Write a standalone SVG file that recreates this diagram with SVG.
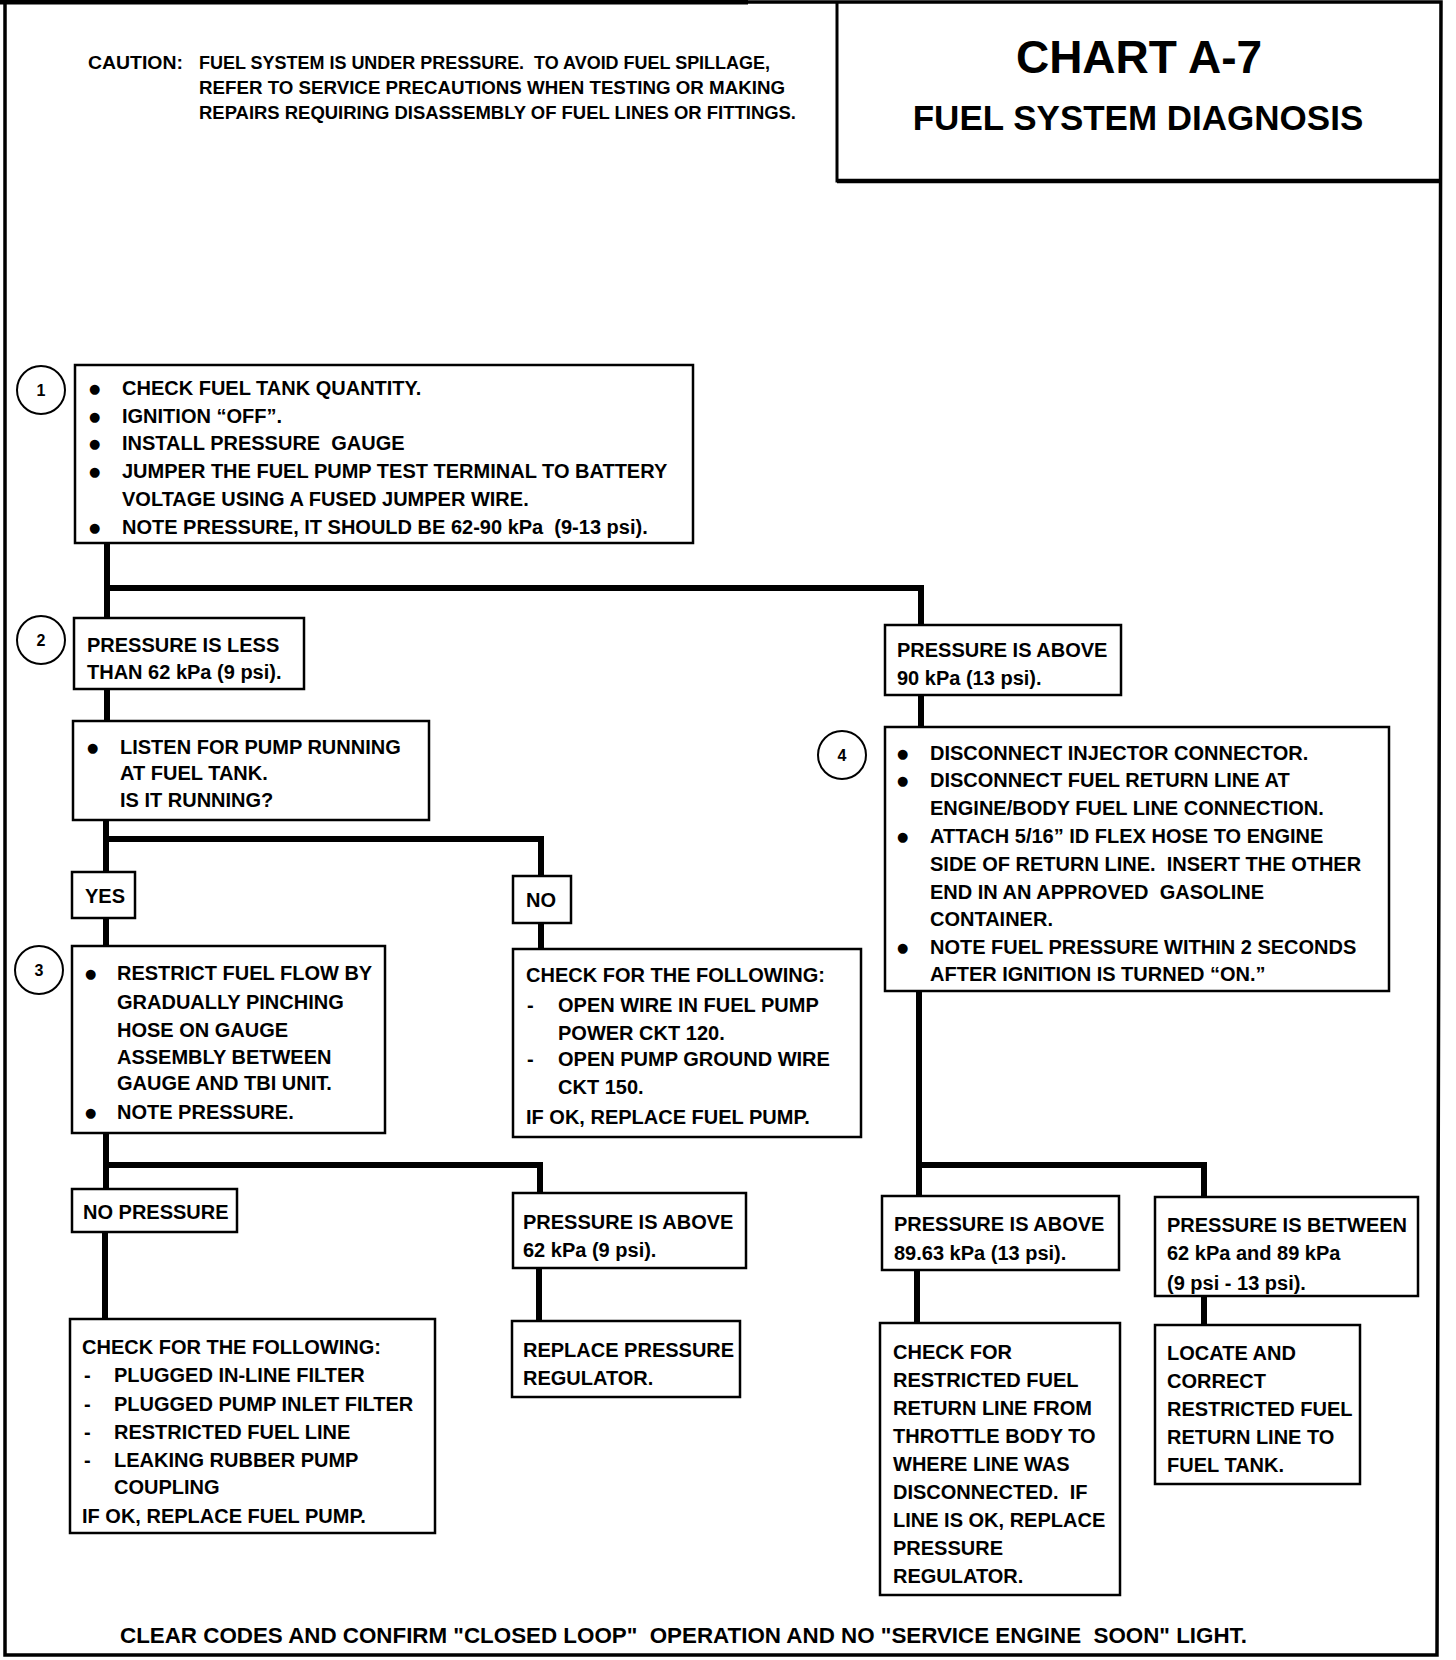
<svg xmlns="http://www.w3.org/2000/svg" width="1456" height="1660" viewBox="0 0 1456 1660">
<style>
  text { white-space: pre; }
  .box { fill: #fff; stroke: #000; stroke-width: 2.5; }
  .t { font-family: "Liberation Sans", Arial, sans-serif; font-weight: bold; font-size: 20px; fill: #000; }
  .b { font-family: "DejaVu Sans", "Liberation Sans", sans-serif; font-size: 13px; fill: #000; }
  .num { font-family: "Liberation Sans", Arial, sans-serif; font-weight: bold; font-size: 16px; fill: #000; text-anchor: middle; }
  .circ { fill: #fff; stroke: #000; stroke-width: 2; }
  .cau { font-family: "Liberation Sans", Arial, sans-serif; font-weight: bold; font-size: 18px; fill: #000; }
  .conn { fill: none; stroke: #000; stroke-width: 6; stroke-linejoin: miter; }
</style>
<rect x="0" y="0" width="1456" height="1660" fill="#fff"/>

<g id="frame">
  <path d="M5,2 L1441,2 L1437,1655 L5,1655 Z" fill="none" stroke="#000" stroke-width="3.5"/>
  <line x1="0" y1="2" x2="748" y2="2" stroke="#000" stroke-width="5"/>
</g>

<g id="caution">
  <text class="cau" x="88" y="69" textLength="95" lengthAdjust="spacingAndGlyphs">CAUTION:</text>
  <text class="cau" x="199" y="69" textLength="571" lengthAdjust="spacingAndGlyphs">FUEL SYSTEM IS UNDER PRESSURE.  TO AVOID FUEL SPILLAGE,</text>
  <text class="cau" x="199" y="94" textLength="586" lengthAdjust="spacingAndGlyphs">REFER TO SERVICE PRECAUTIONS WHEN TESTING OR MAKING</text>
  <text class="cau" x="199" y="119" textLength="597" lengthAdjust="spacingAndGlyphs">REPAIRS REQUIRING DISASSEMBLY OF FUEL LINES OR FITTINGS.</text>
</g>

<g id="title">
  <path d="M837,2 V181 H1440" fill="none" stroke="#000" stroke-width="3"/>
  <line x1="837" y1="181" x2="1440" y2="181" stroke="#000" stroke-width="4.5"/>
  <text x="1139" y="73" text-anchor="middle" font-family="Liberation Sans, Arial, sans-serif" font-weight="bold" font-size="46">CHART A-7</text>
  <text x="1138" y="130" text-anchor="middle" font-family="Liberation Sans, Arial, sans-serif" font-weight="bold" font-size="35">FUEL SYSTEM DIAGNOSIS</text>
</g>

<g id="connectors">
  <path class="conn" d="M107,543 V618"/>
  <path class="conn" d="M107,588 H921 V625"/>
  <path class="conn" d="M107,689 V721"/>
  <path class="conn" d="M921,695 V727"/>
  <path class="conn" d="M106,820 V872"/>
  <path class="conn" d="M106,839 H541 V876"/>
  <path class="conn" d="M106,918 V946"/>
  <path class="conn" d="M541,923 V949"/>
  <path class="conn" d="M106,1133 V1189"/>
  <path class="conn" d="M106,1165 H540 V1193"/>
  <path class="conn" d="M105,1232 V1319"/>
  <path class="conn" d="M539,1268 V1321"/>
  <path class="conn" d="M919,991 V1196"/>
  <path class="conn" d="M919,1165 H1204 V1197"/>
  <path class="conn" d="M917,1270 V1323"/>
  <path class="conn" d="M1204,1296 V1325"/>
</g>

<g id="step1">
  <circle class="circ" cx="41" cy="390" r="24"/>
  <text class="num" x="41" y="396">1</text>
  <rect class="box" x="75" y="365" width="618" height="178"/>
  <text class="b" x="89" y="393">●</text><text class="t" x="122" y="395">CHECK FUEL TANK QUANTITY.</text>
  <text class="b" x="89" y="421">●</text><text class="t" x="122" y="423">IGNITION “OFF”.</text>
  <text class="b" x="89" y="448">●</text><text class="t" x="122" y="450">INSTALL PRESSURE  GAUGE</text>
  <text class="b" x="89" y="476">●</text><text class="t" x="122" y="478">JUMPER THE FUEL PUMP TEST TERMINAL TO BATTERY</text>
  <text class="t" x="122" y="506">VOLTAGE USING A FUSED JUMPER WIRE.</text>
  <text class="b" x="89" y="532">●</text><text class="t" x="122" y="534">NOTE PRESSURE, IT SHOULD BE 62-90 kPa  (9-13 psi).</text>
</g>

<g id="step2">
  <circle class="circ" cx="41" cy="640" r="24"/>
  <text class="num" x="41" y="646">2</text>
  <rect class="box" x="74" y="618" width="230" height="71"/>
  <text class="t" x="87" y="652">PRESSURE IS LESS</text>
  <text class="t" x="87" y="679">THAN 62 kPa (9 psi).</text>
</g>

<g id="listen">
  <rect class="box" x="73" y="721" width="356" height="99"/>
  <text class="b" x="87" y="752">●</text><text class="t" x="120" y="754">LISTEN FOR PUMP RUNNING</text>
  <text class="t" x="120" y="780">AT FUEL TANK.</text>
  <text class="t" x="120" y="807">IS IT RUNNING?</text>
</g>

<g id="yes">
  <rect class="box" x="72" y="872" width="63" height="46"/>
  <text class="t" x="85" y="903">YES</text>
</g>

<g id="no">
  <rect class="box" x="513" y="876" width="58" height="47"/>
  <text class="t" x="526" y="907">NO</text>
</g>

<g id="step3">
  <circle class="circ" cx="39" cy="970" r="24"/>
  <text class="num" x="39" y="976">3</text>
  <rect class="box" x="72" y="946" width="313" height="187"/>
  <text class="b" x="85" y="978">●</text><text class="t" x="117" y="980">RESTRICT FUEL FLOW BY</text>
  <text class="t" x="117" y="1009">GRADUALLY PINCHING</text>
  <text class="t" x="117" y="1037">HOSE ON GAUGE</text>
  <text class="t" x="117" y="1064">ASSEMBLY BETWEEN</text>
  <text class="t" x="117" y="1090">GAUGE AND TBI UNIT.</text>
  <text class="b" x="85" y="1117">●</text><text class="t" x="117" y="1119">NOTE PRESSURE.</text>
</g>

<g id="check-wire">
  <rect class="box" x="513" y="949" width="348" height="188"/>
  <text class="t" x="526" y="982">CHECK FOR THE FOLLOWING:</text>
  <text class="t" x="527" y="1012">-</text><text class="t" x="558" y="1012">OPEN WIRE IN FUEL PUMP</text>
  <text class="t" x="558" y="1040">POWER CKT 120.</text>
  <text class="t" x="527" y="1066">-</text><text class="t" x="558" y="1066">OPEN PUMP GROUND WIRE</text>
  <text class="t" x="558" y="1094">CKT 150.</text>
  <text class="t" x="526" y="1124">IF OK, REPLACE FUEL PUMP.</text>
</g>

<g id="no-pressure">
  <rect class="box" x="72" y="1189" width="165" height="43"/>
  <text class="t" x="83" y="1219">NO PRESSURE</text>
</g>

<g id="above-62">
  <rect class="box" x="513" y="1193" width="233" height="75"/>
  <text class="t" x="523" y="1229">PRESSURE IS ABOVE</text>
  <text class="t" x="523" y="1257">62 kPa (9 psi).</text>
</g>

<g id="check-filter">
  <rect class="box" x="70" y="1319" width="365" height="214"/>
  <text class="t" x="82" y="1354">CHECK FOR THE FOLLOWING:</text>
  <text class="t" x="84" y="1382">-</text><text class="t" x="114" y="1382">PLUGGED IN-LINE FILTER</text>
  <text class="t" x="84" y="1411">-</text><text class="t" x="114" y="1411">PLUGGED PUMP INLET FILTER</text>
  <text class="t" x="84" y="1439">-</text><text class="t" x="114" y="1439">RESTRICTED FUEL LINE</text>
  <text class="t" x="84" y="1467">-</text><text class="t" x="114" y="1467">LEAKING RUBBER PUMP</text>
  <text class="t" x="114" y="1494">COUPLING</text>
  <text class="t" x="82" y="1523">IF OK, REPLACE FUEL PUMP.</text>
</g>

<g id="replace-regulator">
  <rect class="box" x="512" y="1321" width="228" height="76"/>
  <text class="t" x="523" y="1357">REPLACE PRESSURE</text>
  <text class="t" x="523" y="1385">REGULATOR.</text>
</g>

<g id="above-90">
  <rect class="box" x="885" y="625" width="236" height="70"/>
  <text class="t" x="897" y="657">PRESSURE IS ABOVE</text>
  <text class="t" x="897" y="685">90 kPa (13 psi).</text>
</g>

<g id="step4">
  <circle class="circ" cx="842" cy="755" r="24"/>
  <text class="num" x="842" y="761">4</text>
  <rect class="box" x="885" y="727" width="504" height="264"/>
  <text class="b" x="897" y="758">●</text><text class="t" x="930" y="760">DISCONNECT INJECTOR CONNECTOR.</text>
  <text class="b" x="897" y="785">●</text><text class="t" x="930" y="787">DISCONNECT FUEL RETURN LINE AT</text>
  <text class="t" x="930" y="815">ENGINE/BODY FUEL LINE CONNECTION.</text>
  <text class="b" x="897" y="841">●</text><text class="t" x="930" y="843">ATTACH 5/16” ID FLEX HOSE TO ENGINE</text>
  <text class="t" x="930" y="871">SIDE OF RETURN LINE.  INSERT THE OTHER</text>
  <text class="t" x="930" y="899">END IN AN APPROVED  GASOLINE</text>
  <text class="t" x="930" y="926">CONTAINER.</text>
  <text class="b" x="897" y="952">●</text><text class="t" x="930" y="954">NOTE FUEL PRESSURE WITHIN 2 SECONDS</text>
  <text class="t" x="930" y="981">AFTER IGNITION IS TURNED “ON.”</text>
</g>

<g id="above-8963">
  <rect class="box" x="882" y="1196" width="237" height="74"/>
  <text class="t" x="894" y="1231">PRESSURE IS ABOVE</text>
  <text class="t" x="894" y="1260">89.63 kPa (13 psi).</text>
</g>

<g id="between">
  <rect class="box" x="1155" y="1197" width="263" height="99"/>
  <text class="t" x="1167" y="1232">PRESSURE IS BETWEEN</text>
  <text class="t" x="1167" y="1260">62 kPa and 89 kPa</text>
  <text class="t" x="1167" y="1290">(9 psi - 13 psi).</text>
</g>

<g id="check-return">
  <rect class="box" x="880" y="1323" width="240" height="272"/>
  <text class="t" x="893" y="1359">CHECK FOR</text>
  <text class="t" x="893" y="1387">RESTRICTED FUEL</text>
  <text class="t" x="893" y="1415">RETURN LINE FROM</text>
  <text class="t" x="893" y="1443">THROTTLE BODY TO</text>
  <text class="t" x="893" y="1471">WHERE LINE WAS</text>
  <text class="t" x="893" y="1499">DISCONNECTED.  IF</text>
  <text class="t" x="893" y="1527">LINE IS OK, REPLACE</text>
  <text class="t" x="893" y="1555">PRESSURE</text>
  <text class="t" x="893" y="1583">REGULATOR.</text>
</g>

<g id="locate">
  <rect class="box" x="1155" y="1325" width="205" height="159"/>
  <text class="t" x="1167" y="1360">LOCATE AND</text>
  <text class="t" x="1167" y="1388">CORRECT</text>
  <text class="t" x="1167" y="1416">RESTRICTED FUEL</text>
  <text class="t" x="1167" y="1444">RETURN LINE TO</text>
  <text class="t" x="1167" y="1472">FUEL TANK.</text>
</g>

<g id="footer">
  <text x="120" y="1643" font-family="Liberation Sans, Arial, sans-serif" font-weight="bold" font-size="22" textLength="1127" lengthAdjust="spacingAndGlyphs">CLEAR CODES AND CONFIRM "CLOSED LOOP"  OPERATION AND NO "SERVICE ENGINE  SOON" LIGHT.</text>
</g>
</svg>
